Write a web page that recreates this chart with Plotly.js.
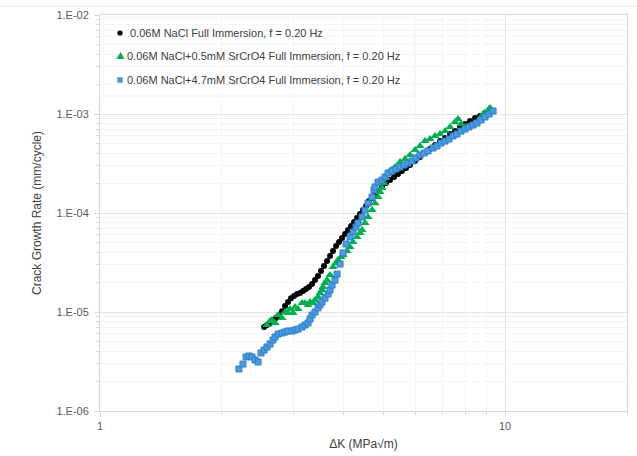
<!DOCTYPE html>
<html><head><meta charset="utf-8">
<script src="https://cdn.plot.ly/plotly-3.0.1.min.js"></script>
<style>html,body{margin:0;padding:0;background:#fff}</style>
</head><body><div id="chart" style="width:637px;height:456px"></div>
<script>
const seriesNames = [
  "0.06M NaCl Full Immersion, f = 0.20 Hz",
  "0.06M NaCl+0.5mM SrCrO4 Full Immersion, f = 0.20 Hz",
  "0.06M NaCl+4.7mM SrCrO4 Full Immersion, f = 0.20 Hz"
];
const seriesColors = ["#000000", "#00B050", "#4A9BE0"];

const naclDK = [2.542,2.584,2.629,2.674,2.720,2.767,2.814,2.863,2.912,2.962,3.013,3.065,3.118,3.172,3.226,3.281,3.338,3.395,3.453,3.513,3.573,3.635,3.698,3.761,3.826,3.892,3.959,4.027,4.097,4.168,4.239,4.312,4.385,4.461,4.538,4.616,4.695,4.775,4.858,4.970,5.084,5.200,5.320,5.442,5.567,5.695,5.826,5.995,6.167,6.345,6.528,6.716,6.910,7.109,7.314,7.524,7.742,7.965,8.194,8.431,8.674,8.923,9.183];
const naclRate = [7.05e-6,7.39e-6,7.74e-6,8.11e-6,8.70e-6,9.33e-6,1.02e-5,1.15e-5,1.26e-5,1.38e-5,1.45e-5,1.52e-5,1.56e-5,1.63e-5,1.71e-5,1.79e-5,1.92e-5,2.10e-5,2.31e-5,2.59e-5,2.91e-5,3.27e-5,3.68e-5,4.13e-5,4.64e-5,5.10e-5,5.59e-5,6.14e-5,6.74e-5,7.39e-5,8.11e-5,8.91e-5,9.77e-5,1.07e-4,1.18e-4,1.32e-4,1.42e-4,1.56e-4,1.67e-4,1.83e-4,2.01e-4,2.15e-4,2.31e-4,2.48e-4,2.66e-4,2.85e-4,3.05e-4,3.35e-4,3.68e-4,4.04e-4,4.43e-4,4.86e-4,5.34e-4,5.72e-4,6.28e-4,6.74e-4,7.39e-4,7.93e-4,8.50e-4,9.11e-4,9.55e-4,1.02e-3,1.07e-3];

const sr05DK = [2.584,2.629,2.659,2.705,2.752,2.815,2.863,2.912,2.945,2.996,3.030,3.082,3.154,3.208,3.263,3.300,3.357,3.395,3.453,3.493,3.533,3.553,3.594,3.635,3.698,3.762,3.826,3.869,3.936,3.981,4.073,4.143,4.214,4.311,4.385,4.435,4.511,4.589,4.695,4.775,4.857,4.913,4.970,5.026,5.084,5.142,5.230,5.350,5.505,5.663,5.826,5.995,6.167,6.345,6.528,6.716,6.910,7.109,7.314,7.524,7.653,7.786,7.965,8.194,8.431,8.674,8.874,9.128,9.183];
const sr05Rate = [7.39e-6,8.11e-6,8.30e-6,7.74e-6,9.33e-6,8.70e-6,1.00e-5,9.77e-6,1.075e-5,9.77e-6,1.126e-5,1.075e-5,1.236e-5,1.236e-5,1.18e-5,1.26e-5,1.236e-5,1.32e-5,1.417e-5,1.557e-5,1.67e-5,1.785e-5,1.959e-5,2.10e-5,2.36e-5,2.845e-5,3.122e-5,3.35e-5,3.60e-5,3.77e-5,4.13e-5,4.53e-5,5.10e-5,5.73e-5,6.29e-5,6.74e-5,7.93e-5,9.12e-5,1.07e-4,1.258e-4,1.451e-4,1.632e-4,1.79e-4,2.011e-4,2.252e-4,2.535e-4,2.72e-4,2.91e-4,3.27e-4,3.51e-4,3.85e-4,4.33e-4,4.75e-4,5.33e-4,5.59e-4,6.00e-4,6.28e-4,6.73e-4,7.39e-4,8.30e-4,8.90e-4,7.92e-4,7.39e-4,7.56e-4,7.92e-4,9.11e-4,1.024e-3,1.123e-3,1.149e-3];

const sr47DK = [2.203,2.254,2.294,2.334,2.373,2.414,2.456,2.498,2.541,2.584,2.629,2.674,2.705,2.752,2.815,2.863,2.912,2.979,3.030,3.082,3.154,3.208,3.263,3.300,3.338,3.395,3.453,3.493,3.533,3.594,3.656,3.698,3.740,3.804,3.848,3.914,3.981,4.050,4.143,4.214,4.286,4.335,4.435,4.511,4.589,4.695,4.749,4.775,4.857,4.970,5.055,5.142,5.260,5.380,5.505,5.632,5.760,5.893,6.029,6.167,6.309,6.454,6.640,6.793,6.949,7.109,7.273,7.440,7.611,7.786,7.965,8.148,8.335,8.528,8.723,8.923,9.131,9.341];
const sr47Rate = [2.656e-6,2.98e-6,3.51e-6,3.595e-6,3.51e-6,3.275e-6,3.126e-6,3.855e-6,4.13e-6,4.43e-6,4.75e-6,5.21e-6,5.59e-6,5.99e-6,6.135e-6,6.28e-6,6.43e-6,6.43e-6,6.58e-6,6.73e-6,7.05e-6,7.39e-6,7.74e-6,8.50e-6,9.33e-6,1.00e-5,1.10e-5,1.18e-5,1.26e-5,1.383e-5,1.52e-5,1.67e-5,1.87e-5,2.10e-5,2.416e-5,3.05e-5,3.95e-5,4.86e-5,5.73e-5,6.43e-5,7.23e-5,7.93e-5,9.12e-5,1.07e-4,1.258e-4,1.451e-4,1.71e-4,1.833e-4,2.052e-4,2.15e-4,2.31e-4,2.535e-4,2.657e-4,2.784e-4,2.91e-4,3.05e-4,3.195e-4,3.35e-4,3.593e-4,3.85e-4,4.033e-4,4.23e-4,4.536e-4,4.75e-4,5.09e-4,5.33e-4,5.59e-4,6.00e-4,6.28e-4,6.73e-4,7.05e-4,7.39e-4,7.74e-4,8.11e-4,8.70e-4,9.33e-4,1.0e-3,1.072e-3];

const xTickVals = [1, 10];
const xTickText = ["1", "10"];
const yTickVals = [1e-6, 1e-5, 1e-4, 1e-3, 1e-2];
const yTickText = ["1.E-06", "1.E-05", "1.E-04", "1.E-03", "1.E-02"];

const xMinor = [];
[1, 10].forEach(d => { for (let k = 2; k <= 9; k++) { if (k * d <= 20) xMinor.push(k * d); } });
const yMinor = [];
[1e-6, 1e-5, 1e-4, 1e-3].forEach(d => { for (let k = 2; k <= 9; k++) yMinor.push(k * d); });

const FONT = "Liberation Sans, Arial, sans-serif";
const W = 637, H = 456, M = {l: 100, r: 10, t: 15, b: 45};
const PW = W - M.l - M.r, PH = H - M.t - M.b;
const px2x = p => (p - M.l) / PW;            // pixel -> paper x
const px2y = p => (H - M.b - p) / PH;        // pixel -> paper y

const traces = [
  {x: naclDK, y: naclRate, name: seriesNames[0], type: "scatter", mode: "markers",
   marker: {symbol: "circle", size: 6, color: seriesColors[0]}},
  {x: sr05DK, y: sr05Rate, name: seriesNames[1], type: "scatter", mode: "markers",
   marker: {symbol: "triangle-up", size: 8, color: seriesColors[1]}},
  {x: sr47DK, y: sr47Rate, name: seriesNames[2], type: "scatter", mode: "markers",
   marker: {symbol: "square", size: 6, color: seriesColors[2], line: {color: "#2F7FC8", width: 1}}}
];

// legend (drawn as glyph shapes + text annotations, Excel style)
const legRowsPx = [33, 56, 80];
const legGlyphX = 120;
const legTextX = [128, 125, 125];
const annotations = seriesNames.map((n, i) => ({
  text: n, xref: "paper", yref: "paper", x: px2x(legTextX[i]), y: px2y(legRowsPx[i]),
  xanchor: "left", yanchor: "middle", showarrow: false,
  font: {family: FONT, size: 11, color: "#404040"}
}));
const r = 2.6;
const shapes = [
  {type: "line", xref: "paper", yref: "paper", x0: px2x(0), x1: px2x(637), y0: px2y(6), y1: px2y(6),
   line: {color: "#e3e3e3", width: 1}},
  {type: "rect", xref: "paper", yref: "paper", x0: px2x(103), x1: px2x(415), y0: px2y(17), y1: px2y(96),
   fillcolor: "#ffffff", line: {color: "#f0f0f0", width: 1}, layer: "below"},
  {type: "circle", xref: "paper", yref: "paper", x0: px2x(legGlyphX - r), x1: px2x(legGlyphX + r),
   y0: px2y(legRowsPx[0] - r), y1: px2y(legRowsPx[0] + r), fillcolor: seriesColors[0], line: {width: 0}},
  {type: "path", xref: "paper", yref: "paper",
   path: "M " + px2x(legGlyphX + 0.5) + " " + px2y(legRowsPx[1] - 4) + " L " + px2x(legGlyphX + 4.5) + " " + px2y(legRowsPx[1] + 3) +
         " L " + px2x(legGlyphX - 3.5) + " " + px2y(legRowsPx[1] + 3) + " Z",
   fillcolor: seriesColors[1], line: {width: 0}},
  {type: "rect", xref: "paper", yref: "paper", x0: px2x(legGlyphX - 2.8), x1: px2x(legGlyphX + 2.8),
   y0: px2y(legRowsPx[2] - 2.8), y1: px2y(legRowsPx[2] + 2.8), fillcolor: seriesColors[2], line: {width: 0}}
];

const layout = {
  width: W, height: H,
  margin: M,
  paper_bgcolor: "#ffffff", plot_bgcolor: "#ffffff",
  font: {family: FONT, size: 11, color: "#595959"},
  showlegend: false,
  xaxis: {type: "log", range: [0, Math.log10(20)],
    tickmode: "array", tickvals: xTickVals, ticktext: xTickText,
    ticks: "outside", ticklen: 5, tickcolor: "#d9d9d9",
    showgrid: true, gridcolor: "#e3e3e3", gridwidth: 1,
    showline: true, linecolor: "#d9d9d9", linewidth: 1, mirror: true,
    zeroline: false,
    tickfont: {family: FONT, size: 11, color: "#595959"},
    minor: {tickmode: "array", tickvals: xMinor, ticks: "outside", ticklen: 3, tickcolor: "#d9d9d9",
      showgrid: true, gridcolor: "#f5f5f5", gridwidth: 1},
    title: {text: "\u0394K (MPa\u221am)", font: {family: FONT, size: 12, color: "#404040"}, standoff: 8}
  },
  yaxis: {type: "log", range: [-6, -2],
    tickmode: "array", tickvals: yTickVals, ticktext: yTickText,
    ticks: "outside", ticklen: 5, tickcolor: "#d9d9d9", ticklabelstandoff: 3,
    showgrid: true, gridcolor: "#e3e3e3", gridwidth: 1,
    showline: true, linecolor: "#d9d9d9", linewidth: 1, mirror: true,
    zeroline: false,
    tickfont: {family: FONT, size: 11, color: "#595959"},
    minor: {tickmode: "array", tickvals: yMinor, ticks: "outside", ticklen: 3, tickcolor: "#d9d9d9",
      showgrid: true, gridcolor: "#f5f5f5", gridwidth: 1},
    title: {text: "Crack Growth Rate (mm/cycle)", font: {family: FONT, size: 12, color: "#404040"}, standoff: 12}
  },
  annotations: annotations,
  shapes: shapes
};

Plotly.newPlot("chart", traces, layout, {displayModeBar: false, staticPlot: true});
</script>
</body></html>
